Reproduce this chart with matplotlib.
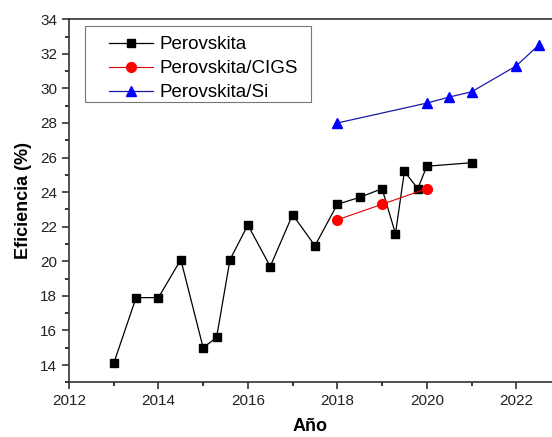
import numpy as np
import matplotlib.pyplot as plt
from matplotlib.patches import Rectangle
from matplotlib.ticker import MultipleLocator

plt.rcParams['font.family'] = ['Liberation Sans', 'DejaVu Sans']

# perovskite single junction record efficiencies
years_pk = [2013, 2013.5, 2014, 2014.5, 2015, 2015.3, 2015.6, 2016, 2016.5,
            2017, 2017.5, 2018, 2018.5, 2019, 2019.3, 2019.5, 2019.8, 2020, 2021]
eff_pk = [14.1, 17.9, 17.9, 20.1, 15.0, 15.6, 20.1, 22.1, 19.7,
          22.7, 20.9, 23.3, 23.7, 24.2, 21.6, 25.2, 24.2, 25.5, 25.7]

# tandem cells
years_cigs = [2018, 2019, 2020]
eff_cigs = [22.4, 23.3, 24.2]

years_si = [2018, 2020, 2020.5, 2021, 2022, 2022.5]
eff_si = [28.0, 29.15, 29.5, 29.8, 31.3, 32.5]

fig = plt.figure(figsize=(5.52, 4.37), dpi=100)
ax = fig.add_axes([0.125, 0.125, 0.875, 0.831])

ax.plot(years_pk, eff_pk, color='black', lw=0.9, marker='s', ms=6,
        label='Perovskita')
ax.plot(years_cigs, eff_cigs, color='#e00000', lw=0.8, marker='o', ms=7,
        markerfacecolor='#ff0000', markeredgecolor='#ff0000',
        label='Perovskita/CIGS')
ax.plot(years_si, eff_si, color='#1a1aa8', lw=0.9, marker='^', ms=7.5,
        markerfacecolor='#0000ff', markeredgecolor='#0000ff',
        label='Perovskita/Si')

ax.set_xlim(2012, 2022.8)
ax.set_ylim(13, 34)
ax.xaxis.set_major_locator(MultipleLocator(2))
ax.xaxis.set_minor_locator(MultipleLocator(1))
ax.yaxis.set_major_locator(MultipleLocator(2))
ax.yaxis.set_minor_locator(MultipleLocator(1))
ax.tick_params(which='major', direction='out', length=5, width=1.1,
               labelsize=11, colors='#222222')
ax.tick_params(which='minor', direction='out', length=3, width=1.1)

for side in ['left', 'bottom', 'top']:
    ax.spines[side].set_linewidth(1.2)
    ax.spines[side].set_color('#333333')
ax.spines['right'].set_visible(False)

ax.set_xlabel('Año', fontsize=13, fontweight='bold', labelpad=7)
ax.set_ylabel('Eficiencia (%)', fontsize=13, fontweight='bold', labelpad=6)

# legend without its own frame, box drawn separately
leg = ax.legend(loc='upper left', bbox_to_anchor=(0.0828, 0.953),
                borderaxespad=0, borderpad=0, fontsize=13.5, frameon=False,
                handlelength=2.35, handletextpad=0.32, labelspacing=0.36)
box = Rectangle((0.0331, 0.7722), 0.4679, 0.2093, transform=ax.transAxes,
                fill=False, edgecolor='#777777', linewidth=0.8, zorder=5)
ax.add_patch(box)

fig.savefig('out.png', dpi=100)
